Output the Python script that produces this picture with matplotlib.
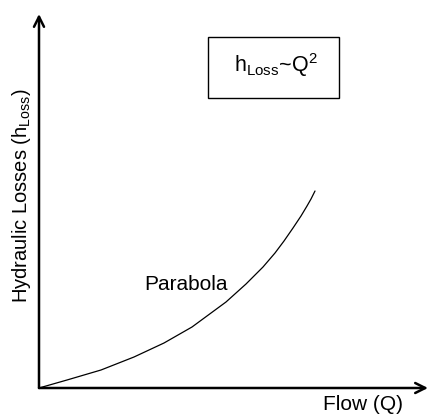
import matplotlib.pyplot as plt
from matplotlib.patches import Rectangle

plt.rcParams['font.family'] = ['Liberation Sans', 'DejaVu Sans']
plt.rcParams['mathtext.fontset'] = 'custom'
plt.rcParams['mathtext.rm'] = 'Liberation Sans'
plt.rcParams['mathtext.it'] = 'Liberation Sans'

# curve (flow vs. loss, arbitrary units)
flow = [0, 28, 62, 95, 125, 153, 187, 207, 215, 224, 236, 245, 254, 262, 268, 272, 276]
loss = [0, 8, 18, 31, 45, 61, 86, 104, 112, 121, 135, 147, 160, 172, 182, 189, 197]

W, H = 429, 417
fig = plt.figure(figsize=(W / 100, H / 100), dpi=100)
ax = fig.add_axes([39 / W, 29 / H, 389 / W, 374 / H])
ax.set_xlim(0, 389)
ax.set_ylim(0, 374)
ax.axis('off')

# axes with arrow heads
arrow = dict(arrowstyle='->', lw=1.8, color='black', mutation_scale=18,
             shrinkA=0, shrinkB=0)
ax.annotate('', xy=(389, 0), xytext=(0, 0), arrowprops=arrow, annotation_clip=False)
ax.annotate('', xy=(0, 374), xytext=(0, 0), arrowprops=arrow, annotation_clip=False)

ax.plot(flow, loss, color='black', lw=0.9, solid_capstyle='round',
        solid_joinstyle='round')

ax.text(147, 104, 'Parabola', fontsize=15, ha='center', va='center')

ax.add_patch(Rectangle((169, 290), 131, 61, fill=False, lw=1.0, color='black'))
ax.text(237, 323, r'h$_{\mathrm{Loss}}$~Q$^{2}$', fontsize=15.5, ha='center', va='center')

fig.text(363 / W, 1 - 405 / H, 'Flow (Q)', fontsize=15, ha='center', va='center')
fig.text(22 / W, 1 - 196 / H, r'Hydraulic Losses (h$_{\mathrm{Loss}}$)', fontsize=14.5,
         ha='center', va='center', rotation=90)

fig.savefig('out.png', dpi=100)
